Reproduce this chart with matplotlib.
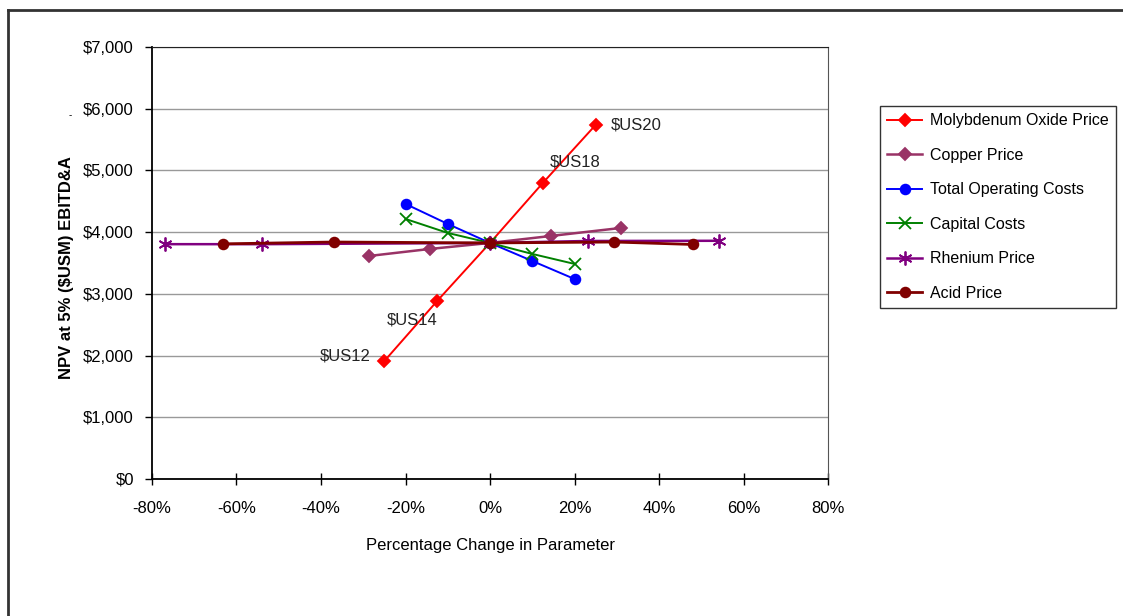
import numpy as np
import matplotlib.pyplot as plt
from matplotlib.lines import Line2D
from matplotlib.ticker import FuncFormatter

plt.rcParams['font.family'] = ['Liberation Sans', 'DejaVu Sans']

# sensitivity series: % change in parameter vs NPV ($USM)
moly_x = [-25, -12.5, 0, 12.5, 25]
moly_y = [1912, 2885, 3825, 4797, 5737]
moly_labels = ['$US12', '$US14', None, '$US18', '$US20']

copper_x = [-28.6, -14.2, 0, 14.4, 31]
copper_y = [3614, 3728, 3825, 3938, 4068]

opex_x = [-20, -10, 0, 10, 20]
opex_y = [4457, 4133, 3825, 3533, 3241]

capex_x = [-20, -10, 0, 10, 20]
capex_y = [4214, 3987, 3825, 3647, 3485]

rhenium_x = [-77, -54, 0, 23.2, 54.2]
rhenium_y = [3805, 3805, 3825, 3857, 3860]

acid_x = [-63.3, -37, 0, 29.4, 48.1]
acid_y = [3810, 3840, 3825, 3840, 3800]

series = [
    ("Molybdenum Oxide Price", moly_x, moly_y, '#FF0000', 'D', 6, 1.4),
    ("Copper Price", copper_x, copper_y, '#993366', 'D', 6, 1.8),
    ("Total Operating Costs", opex_x, opex_y, '#0000FF', 'o', 7, 1.4),
    ("Capital Costs", capex_x, capex_y, '#008000', 'x', 8, 1.4),
    ("Rhenium Price", rhenium_x, rhenium_y, '#800080', (6, 2, 0), 10, 1.8),
    ("Acid Price", acid_x, acid_y, '#800000', 'o', 7, 2.0),
]

fig = plt.figure(figsize=(11.23, 6.16), dpi=100)
ax = fig.add_axes([152 / 1123, 1 - 479 / 616, 676 / 1123, 432 / 616])

handles = []
for name, xs, ys, col, mk, ms, lw in series:
    h, = ax.plot(xs, ys, color=col, marker=mk, markersize=ms, lw=lw,
                 markeredgecolor=col, markeredgewidth=1.3, label=name)
    handles.append(h)

# price labels on the molybdenum line
offsets = {'$US12': (-14, 5, 'right'), '$US14': (-50, -19, 'left'),
           '$US18': (7, 21, 'left'), '$US20': (15, 0, 'left')}
for x, y, lab in zip(moly_x, moly_y, moly_labels):
    if lab is None:
        continue
    dx, dy, ha = offsets[lab]
    ax.annotate(lab, xy=(x, y), xytext=(dx, dy), textcoords='offset pixels',
                ha=ha, va='center', fontsize=12, color='#222222')

ax.set_xlim(-80, 80)
ax.set_ylim(0, 7000)
ax.set_xticks(np.arange(-80, 81, 20))
ax.set_yticks(np.arange(0, 7001, 1000))
ax.xaxis.set_major_formatter(FuncFormatter(lambda v, p: '%d%%' % v))
ax.yaxis.set_major_formatter(FuncFormatter(lambda v, p: '${:,.0f}'.format(v)))
ax.grid(axis='y', color='#999999', lw=1)
ax.set_axisbelow(True)
ax.tick_params(axis='y', direction='out', length=5, width=1, labelsize=12, pad=8)
ax.tick_params(axis='x', direction='inout', length=8, width=1, labelsize=12, pad=12)
for s in ['left', 'bottom']:
    ax.spines[s].set_color('black')
    ax.spines[s].set_linewidth(1.3)
ax.spines['top'].set_color('#222222')
ax.spines['right'].set_color('#555555')

ax.set_xlabel("Percentage Change in Parameter", fontsize=12, labelpad=16)
fig.text(67 / 1123, 1 - 268 / 616, "NPV at 5% ($USM) EBITD&A", rotation=90,
         fontsize=12, fontweight='bold', ha='center', va='center')
fig.text(70 / 1123, 1 - 115 / 616, "-", fontsize=7, ha='center', va='center')

leg = fig.legend(handles=handles, loc='upper left',
                 bbox_to_anchor=(880 / 1123, 1 - 106 / 616),
                 fontsize=11.5, frameon=True, fancybox=False,
                 handlelength=2.2, handletextpad=0.5, labelspacing=1.22,
                 borderpad=0.45, borderaxespad=0)
leg.get_frame().set_edgecolor('black')
leg.get_frame().set_linewidth(1)

# outer frame (left and top edges)
fig.add_artist(Line2D([8 / 1123, 8 / 1123], [0, 1 - 10 / 616],
                      transform=fig.transFigure, color='#333333', lw=2))
fig.add_artist(Line2D([8 / 1123, 1], [1 - 10 / 616, 1 - 10 / 616],
                      transform=fig.transFigure, color='#333333', lw=2))

fig.savefig('out.png', dpi=100)
